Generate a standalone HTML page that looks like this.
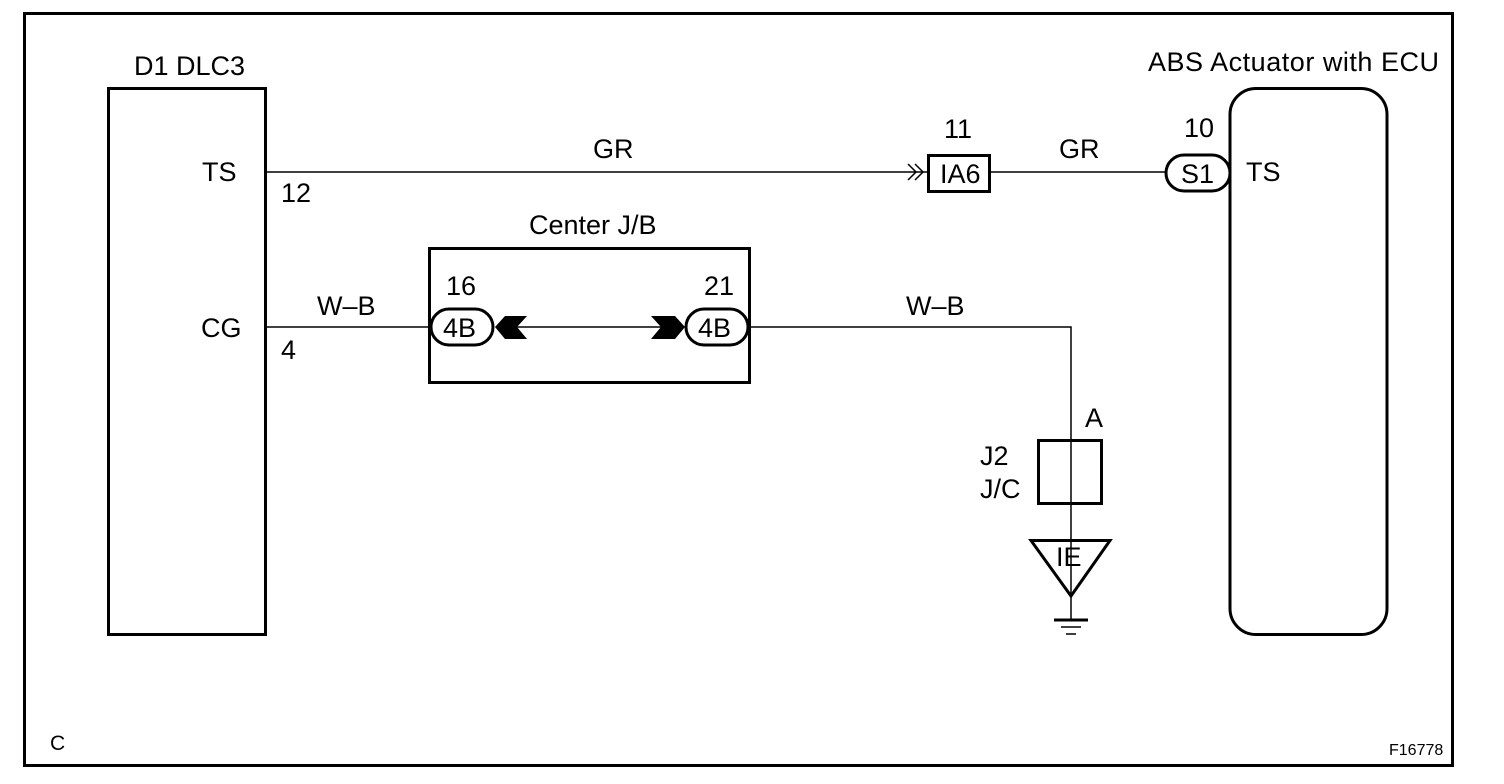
<!DOCTYPE html>
<html><head><meta charset="utf-8"><style>
html,body{margin:0;padding:0;background:#fff;}
svg{display:block;}
text{font-family:"Liberation Sans",Arial,sans-serif;font-size:27px;fill:#000;}
</style></head><body>
<svg width="1504" height="784" viewBox="0 0 1504 784" xmlns="http://www.w3.org/2000/svg">
<rect x="24.5" y="13.5" width="1428" height="752" fill="none" stroke="#000" stroke-width="3"/>
<!-- DLC3 -->
<rect x="108.5" y="88.5" width="157" height="546" fill="none" stroke="#000" stroke-width="3"/>
<text x="134" y="75">D1 DLC3</text>
<text x="202" y="181">TS</text>
<text x="201" y="337">CG</text>
<text x="281" y="202">12</text>
<text x="281" y="359">4</text>
<!-- ABS -->
<rect x="1230" y="88.5" width="157" height="546" rx="26" fill="none" stroke="#000" stroke-width="3"/>
<text x="1148" y="71" textLength="291" lengthAdjust="spacing">ABS Actuator with ECU</text>
<text x="1246" y="181">TS</text>
<text x="1184" y="137">10</text>
<!-- TS line -->
<line x1="266" y1="172" x2="927" y2="172" stroke="#000" stroke-width="1.5"/>
<polyline points="908,164 916,172 908,180" fill="none" stroke="#000" stroke-width="1.5"/>
<polyline points="915,164 923,172 915,180" fill="none" stroke="#000" stroke-width="1.5"/>
<rect x="928.5" y="155.5" width="61" height="36" fill="none" stroke="#000" stroke-width="3"/>
<text x="940" y="183">IA6</text>
<text x="944" y="138">11</text>
<text x="593" y="158">GR</text>
<text x="1059" y="158">GR</text>
<line x1="990" y1="172" x2="1166" y2="172" stroke="#000" stroke-width="1.5"/>
<rect x="1166" y="155" width="64" height="36" rx="18" fill="#fff" stroke="#000" stroke-width="3"/>
<text x="1181" y="183">S1</text>
<!-- Center J/B -->
<rect x="429.5" y="248.5" width="320" height="134" fill="none" stroke="#000" stroke-width="3"/>
<text x="529" y="234">Center J/B</text>
<line x1="266" y1="327" x2="430" y2="327" stroke="#000" stroke-width="1.5"/>
<text x="317" y="315">W–B</text>
<text x="446" y="295">16</text>
<text x="704" y="295">21</text>
<rect x="431" y="309" width="62" height="36" rx="18" fill="#fff" stroke="#000" stroke-width="3"/>
<text x="443" y="337">4B</text>
<rect x="686" y="309" width="62" height="36" rx="18" fill="#fff" stroke="#000" stroke-width="3"/>
<text x="698" y="337">4B</text>
<line x1="510" y1="327" x2="672" y2="327" stroke="#000" stroke-width="1.5"/>
<polygon points="495,327 505,316 527,316 517,327 527,339 505,339" fill="#000"/>
<polygon points="685,327 675,316 651,316 661,327 651,339 675,339" fill="#000"/>
<!-- W-B to ground -->
<polyline points="748,327 1071,327 1071,597" fill="none" stroke="#000" stroke-width="1.5"/>
<text x="906" y="315">W–B</text>
<text x="1085" y="427">A</text>
<rect x="1038.5" y="440.5" width="63" height="63" fill="none" stroke="#000" stroke-width="3"/>
<text x="980" y="465">J2</text>
<text x="980" y="498">J/C</text>
<polygon points="1031,540.5 1110,540.5 1071,596" fill="none" stroke="#000" stroke-width="3"/>
<text x="1056" y="566">IE</text>
<line x1="1071" y1="596" x2="1071" y2="620" stroke="#000" stroke-width="1.5"/>
<line x1="1054" y1="620" x2="1088" y2="620" stroke="#000" stroke-width="3"/>
<line x1="1061" y1="627" x2="1081" y2="627" stroke="#000" stroke-width="1.5"/>
<line x1="1066" y1="634" x2="1076" y2="634" stroke="#000" stroke-width="1.5"/>
<text x="50" y="750" style="font-size:21px">C</text>
<text x="1389" y="755" style="font-size:16px">F16778</text>
</svg>
</body></html>
